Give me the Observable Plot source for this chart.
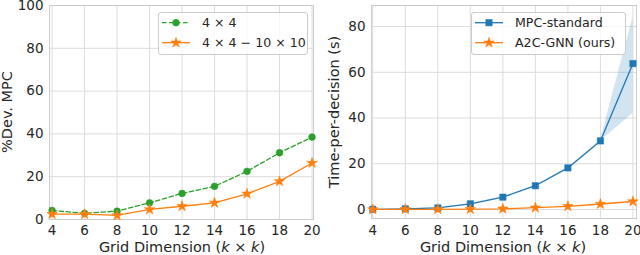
<!DOCTYPE html>
<html><head><meta charset="utf-8">
<script src="https://cdn.jsdelivr.net/npm/d3@7"></script>
<script src="https://cdn.jsdelivr.net/npm/@observablehq/plot@0.6"></script>
<style>
body{margin:0;background:#fff;}
#wrap{position:relative;width:640px;height:255px;font-family:"DejaVu Sans",sans-serif;color:#262626;overflow:hidden;background:#fff}
.panel{position:absolute;top:0}
.xlab,.ylab{position:absolute;font-size:14.5px;line-height:16px;text-align:center;white-space:nowrap}
.ylab{transform:rotate(-90deg)}
.legend{position:absolute;box-sizing:border-box;border:1px solid #cccccc;border-radius:3px;background:rgba(255,255,255,0.8)}
.legend svg{position:absolute;left:0;top:0;overflow:visible}
.legend span{position:absolute;font-size:12.6px;line-height:14px;white-space:nowrap}
</style></head><body><div id="wrap"></div><script>
// ---- data ----
const gridDims = [4, 6, 8, 10, 12, 14, 16, 18, 20];
const dev4x4 = [4.2, 2.9, 3.9, 7.8, 12.2, 15.5, 22.5, 31.2, 38.5];
const dev4x4to10x10 = [2.5, 2.5, 1.9, 4.7, 6.2, 7.8, 12.0, 17.8, 26.4];
const timeMPC = [0.1, 0.3, 0.7, 2.5, 5.4, 10.4, 18.2, 30.0, 63.8];
const timeMPCLow = [0.1, 0.3, 0.6, 2.4, 5.3, 10.3, 18.0, 29.8, 42.0];
const timeMPCHigh = [0.1, 0.3, 0.8, 2.6, 5.5, 10.5, 18.4, 30.2, 84.0];
const timeA2C = [0.05, 0.1, 0.1, 0.15, 0.3, 0.8, 1.4, 2.4, 3.5];
const xTicks = [4, 6, 8, 10, 12, 14, 16, 18, 20];
const yTicksDev = [0, 20, 40, 60, 80, 100];
const yTicksTime = [0, 20, 40, 60, 80];
const legendDev = ["4 × 4", "4 × 4 − 10 × 10"];
const legendTime = ["MPC-standard", "A2C-GNN (ours)"];

const GREEN = "#2ca02c", ORANGE = "#ff7f0e", BLUE = "#1f77b4";
const GRID = "#dcdcdc", FRAME = "#cccccc";

const devRows = gridDims.map((k, i) => ({k, a: dev4x4[i], b: dev4x4to10x10[i]}));
const timeRows = gridDims.map((k, i) => ({k, m: timeMPC[i], lo: timeMPCLow[i], hi: timeMPCHigh[i], g: timeA2C[i]}));

const style = {fontFamily: "DejaVu Sans", fontSize: "13.5px", color: "#262626", background: "transparent", overflow: "visible"};

const left = Plot.plot({
  width: 320, height: 255,
  marginLeft: 49, marginRight: 7, marginTop: 5, marginBottom: 36,
  style,
  x: {domain: [3.84, 20.09]},
  y: {domain: [0, 100]},
  marks: [
    Plot.gridX(xTicks, {stroke: GRID, strokeOpacity: 1, strokeWidth: 1}),
    Plot.gridY(yTicksDev, {stroke: GRID, strokeOpacity: 1, strokeWidth: 1}),
    Plot.frame({stroke: FRAME, strokeWidth: 1}),
    Plot.axisX(xTicks, {tickSize: 0, tickPadding: 6, label: null}),
    Plot.axisY(yTicksDev, {tickSize: 0, tickPadding: 6, label: null}),
    Plot.line(devRows, {x: "k", y: "a", stroke: GREEN, strokeWidth: 1.3, strokeDasharray: "4.5,2.5"}),
    Plot.dot(devRows, {x: "k", y: "a", r: 3.4, fill: GREEN, stroke: GREEN, strokeWidth: 0.5}),
    Plot.line(devRows, {x: "k", y: "b", stroke: ORANGE, strokeWidth: 1.3}),
    Plot.dot(devRows, {x: "k", y: "b", symbol: "star", r: 3.3, fill: ORANGE, stroke: ORANGE, strokeWidth: 0.6})
  ]
});

const right = Plot.plot({
  width: 320, height: 255,
  marginLeft: 51, marginRight: 4, marginTop: 5, marginBottom: 37,
  style,
  x: {domain: [3.92, 20.22]},
  y: {domain: [-3.93, 89.2]},
  marks: [
    Plot.gridX(xTicks, {stroke: GRID, strokeOpacity: 1, strokeWidth: 1}),
    Plot.gridY(yTicksTime, {stroke: GRID, strokeOpacity: 1, strokeWidth: 1}),
    Plot.frame({stroke: FRAME, strokeWidth: 1}),
    Plot.axisX(xTicks, {tickSize: 0, tickPadding: 7, label: null}),
    Plot.axisY(yTicksTime, {tickSize: 0, tickPadding: 6, label: null}),
    Plot.areaY(timeRows, {x: "k", y1: "lo", y2: "hi", fill: BLUE, fillOpacity: 0.2}),
    Plot.line(timeRows, {x: "k", y: "m", stroke: BLUE, strokeWidth: 1.3}),
    Plot.dot(timeRows, {x: "k", y: "m", symbol: "square", r: 3.6, fill: BLUE, stroke: BLUE, strokeWidth: 0.5}),
    Plot.line(timeRows, {x: "k", y: "g", stroke: ORANGE, strokeWidth: 1.3}),
    Plot.dot(timeRows, {x: "k", y: "g", symbol: "star", r: 3.3, fill: ORANGE, stroke: ORANGE, strokeWidth: 0.6})
  ]
});

const wrap = document.getElementById("wrap");
left.classList.add("panel"); left.style.left = "0px";
right.classList.add("panel"); right.style.left = "320px";
wrap.appendChild(left); wrap.appendChild(right);

function xLabel(cx, cy) {
  const d = document.createElement("div");
  d.className = "xlab";
  d.innerHTML = "Grid Dimension (<i>k</i> × <i>k</i>)";
  d.style.width = "240px";
  d.style.left = (cx - 120) + "px";
  d.style.top = (cy - 8) + "px";
  wrap.appendChild(d);
}
function yLabel(text, cx, cy) {
  const d = document.createElement("div");
  d.className = "ylab";
  d.textContent = text;
  d.style.width = "220px";
  d.style.left = (cx - 110) + "px";
  d.style.top = (cy - 8) + "px";
  wrap.appendChild(d);
}
xLabel(182, 247);
xLabel(503, 247);
yLabel("%Dev. MPC", 7, 112);
yLabel("Time-per-decision (s)", 333.5, 111.5);

function symbolPath(type, r) {
  const t = {circle: d3.symbolCircle, star: d3.symbolStar, square: d3.symbolSquare}[type];
  return d3.symbol(t, Math.PI * r * r)();
}
function legend(x, y, w, h, items) {
  const box = document.createElement("div");
  box.className = "legend";
  Object.assign(box.style, {left: x + "px", top: y + "px", width: w + "px", height: h + "px"});
  const ns = "http://www.w3.org/2000/svg";
  const svg = document.createElementNS(ns, "svg");
  svg.setAttribute("width", w); svg.setAttribute("height", h);
  items.forEach((it, i) => {
    const cy = 9.7 + i * 20;
    const ln = document.createElementNS(ns, "line");
    ln.setAttribute("x1", 3); ln.setAttribute("x2", 31);
    ln.setAttribute("y1", cy); ln.setAttribute("y2", cy);
    ln.setAttribute("stroke", it.color); ln.setAttribute("stroke-width", 1.3);
    if (it.dash) ln.setAttribute("stroke-dasharray", it.dash);
    svg.appendChild(ln);
    const p = document.createElementNS(ns, "path");
    p.setAttribute("d", symbolPath(it.symbol, it.r));
    p.setAttribute("transform", `translate(17,${cy})`);
    p.setAttribute("fill", it.color); p.setAttribute("stroke", it.color); p.setAttribute("stroke-width", 0.5);
    svg.appendChild(p);
    const s = document.createElement("span");
    s.textContent = it.label;
    s.style.left = "43px";
    s.style.top = (cy - 7) + "px";
    box.appendChild(s);
  });
  box.appendChild(svg);
  wrap.appendChild(box);
}
legend(158, 12, 150, 43, [
  {label: legendDev[0], color: GREEN, symbol: "circle", r: 3.4, dash: "4.5,2.5"},
  {label: legendDev[1], color: ORANGE, symbol: "star", r: 3.3}
]);
legend(471, 12, 155, 43, [
  {label: legendTime[0], color: BLUE, symbol: "square", r: 3.6},
  {label: legendTime[1], color: ORANGE, symbol: "star", r: 3.3}
]);
</script></body></html>
